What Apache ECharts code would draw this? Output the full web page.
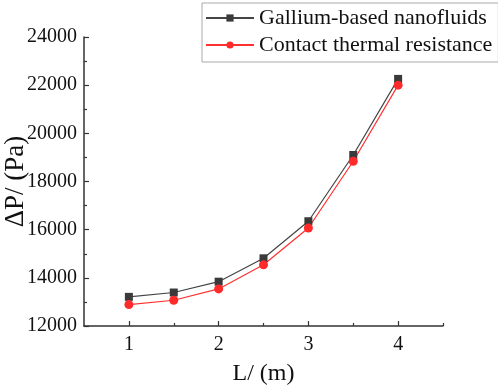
<!DOCTYPE html>
<html><head><meta charset="utf-8">
<script src="https://cdn.jsdelivr.net/npm/echarts@6/dist/echarts.min.js"></script>
<style>html,body{margin:0;padding:0;background:#fff}#c{width:498px;height:392px}</style>
</head><body><div id="c"></div>
<script>
var xValues = [1, 1.5, 2, 2.5, 3, 3.5, 4];
var galliumValues = [13210, 13390, 13840, 14810, 16350, 19100, 22260];
var contactValues = [12890, 13070, 13540, 14540, 16070, 18840, 22000];
var xMajorTicks = [1, 2, 3, 4];
var xMinorTicks = [1.5, 2.5, 3.5, 4.5];
var seriesNames = ['Gallium-based nanofluids', 'Contact thermal resistance'];

var font = '"Liberation Serif", "DejaVu Serif", serif';
var axisColor = '#333';
function pairs(vals){ return xValues.map(function(x,i){ return [x, vals[i]]; }); }

var chart = echarts.init(document.getElementById('c'));
chart.setOption({
  animation: false,
  grid: {left: 84, right: 55, top: 37, bottom: 66, outerBoundsMode: 'none', containLabel: false},
  legend: {
    orient: 'vertical', left: 202, top: 3,
    borderColor: '#aaa', borderWidth: 1, padding: [4, 6, 6, 3],
    itemWidth: 48, itemHeight: 9, itemGap: 5,
    textStyle: {fontFamily: font, fontSize: 22, color: '#111'},
    data: seriesNames
  },
  xAxis: [{
    type: 'value', min: 0.5, max: 4.5,
    name: 'L/ (m)', nameLocation: 'middle', nameGap: 36, nameMoveOverlap: false,
    nameTextStyle: {fontFamily: font, fontSize: 24, color: '#111'},
    axisLine: {lineStyle: {color: axisColor, width: 1.5}},
    axisTick: {inside: true, length: 5, customValues: xMajorTicks, lineStyle: {color: axisColor, width: 1.2}},
    axisLabel: {customValues: xMajorTicks, fontFamily: font, fontSize: 20, color: '#111', margin: 9},
    splitLine: {show: false}
  }, {
    type: 'value', min: 0.5, max: 4.5, position: 'bottom',
    axisLine: {show: false},
    axisTick: {inside: true, length: 3, customValues: xMinorTicks, lineStyle: {color: axisColor, width: 1.2}},
    axisLabel: {show: false},
    splitLine: {show: false}
  }],
  yAxis: {
    type: 'value', min: 12000, max: 24000, interval: 2000,
    name: 'ΔP/ (Pa)', nameLocation: 'middle', nameGap: 55, nameMoveOverlap: false,
    nameTextStyle: {fontFamily: font, fontSize: 27, color: '#111'},
    axisLine: {show: true, lineStyle: {color: axisColor, width: 1.5}},
    axisTick: {show: true, inside: true, length: 5, lineStyle: {color: axisColor, width: 1.2}},
    minorTick: {show: true, splitNumber: 2, length: 3, lineStyle: {color: axisColor, width: 1.2}},
    axisLabel: {fontFamily: font, fontSize: 20, color: '#111', margin: 7, formatter: function(v){ return String(v); }},
    splitLine: {show: false}
  },
  series: [{
    name: seriesNames[0], type: 'line', data: pairs(galliumValues),
    symbol: 'rect', symbolSize: 8,
    itemStyle: {color: '#3a3a3a'}, lineStyle: {color: '#444', width: 1.2}
  }, {
    name: seriesNames[1], type: 'line', data: pairs(contactValues),
    symbol: 'circle', symbolSize: 9,
    itemStyle: {color: '#ff2a2a'}, lineStyle: {color: '#ff3030', width: 1.2}
  }]
});
</script></body></html>
